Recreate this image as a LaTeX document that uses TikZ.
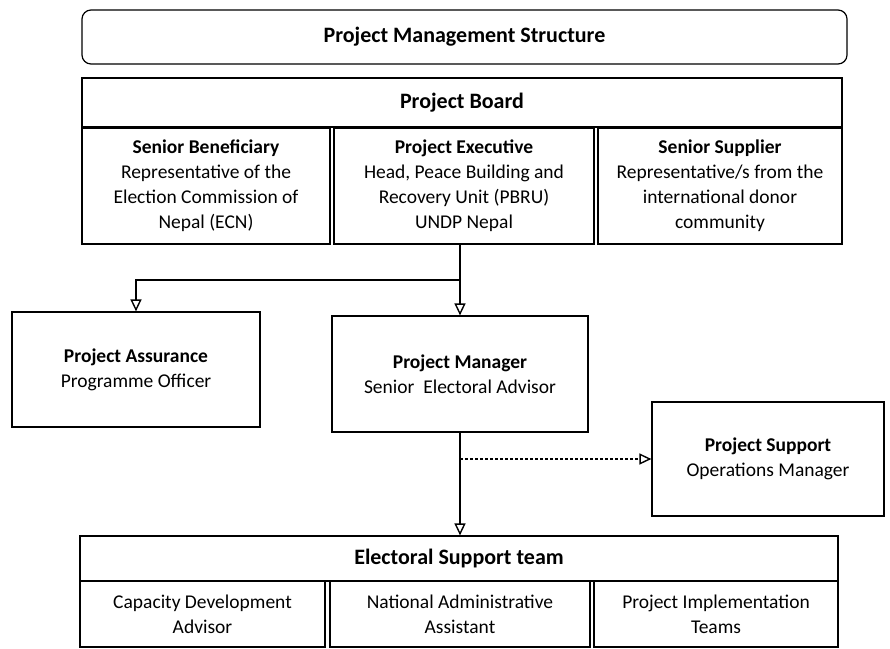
\documentclass[tikz,border=0pt]{standalone}
\usepackage{fontspec}
\setmainfont{Carlito}
\usetikzlibrary{arrows.meta}

\begin{document}
\begin{tikzpicture}[x = 1pt, y = -1pt,
	box/.style 2 args = {draw, line width = 1.2pt, minimum width = #1, minimum height = #2, inner sep = 0pt, align = center, font = \fontsize{19.5}{25}\selectfont},
	head/.style = {font = \fontsize{22}{26}\selectfont\bfseries},
	link/.style = {line width = 2.6pt, ->},
	branch/.style = {line width = 1.8pt, ->},
	dashlink/.style = {line width = 1.6pt, densely dashed, ->},
	>={Triangle[open, length = 12pt, width = 11pt, line width = 1.4pt]}]
	\useasboundingbox (0,0) rectangle (890,648);
	% top title and board
	\node[box = {765pt}{54pt}, head, rounded corners = 9pt] (title) at (464.5,37) {Project Management Structure};
	\node[box = {760pt}{49pt}, head] (board) at (462,102.5) {Project Board};
	\node[box = {248pt}{116pt}] (benef) at (206,186) {\textbf{Senior Beneficiary}\\Representative of the\\Election Commission of\\Nepal (ECN)};
	\node[box = {260pt}{116pt}] (exec) at (464,186) {\textbf{Project Executive}\\Head, Peace Building and\\Recovery Unit (PBRU)\\UNDP Nepal};
	\node[box = {244pt}{116pt}] (supp) at (720,186) {\textbf{Senior Supplier}\\Representative/s from the\\international donor\\community};
	% middle row
	\node[box = {248pt}{115pt}] (assur) at (136,369.5) {\textbf{Project Assurance}\\Programme Officer};
	\node[box = {256pt}{116pt}] (mgr) at (460,374) {\textbf{Project Manager}\\Senior\ \ Electoral Advisor};
	\node[box = {232pt}{114pt}] (supt) at (768,459) {\textbf{Project Support}\\Operations Manager};
	% electoral support team
	\node[box = {758pt}{45pt}, head] (team) at (459,558.5) {Electoral Support team};
	\node[box = {245pt}{66pt}] (capac) at (202.5,614) {Capacity Development\\Advisor};
	\node[box = {260pt}{66pt}] (admin) at (460,614) {National Administrative\\Assistant};
	\node[box = {244pt}{66pt}] (impl) at (716,614) {Project Implementation\\Teams};
	% connectors
	\coordinate (fork) at (460,280);
	\draw[link] (mgr.north |- exec.south) -- (mgr.north);
	\draw[branch] (fork) -| (assur.north);
	\draw[dashlink] (mgr.south |- supt.west) -- (supt.west);
	\draw[link] (mgr.south) -- (mgr.south |- team.north);
\end{tikzpicture}
\end{document}
